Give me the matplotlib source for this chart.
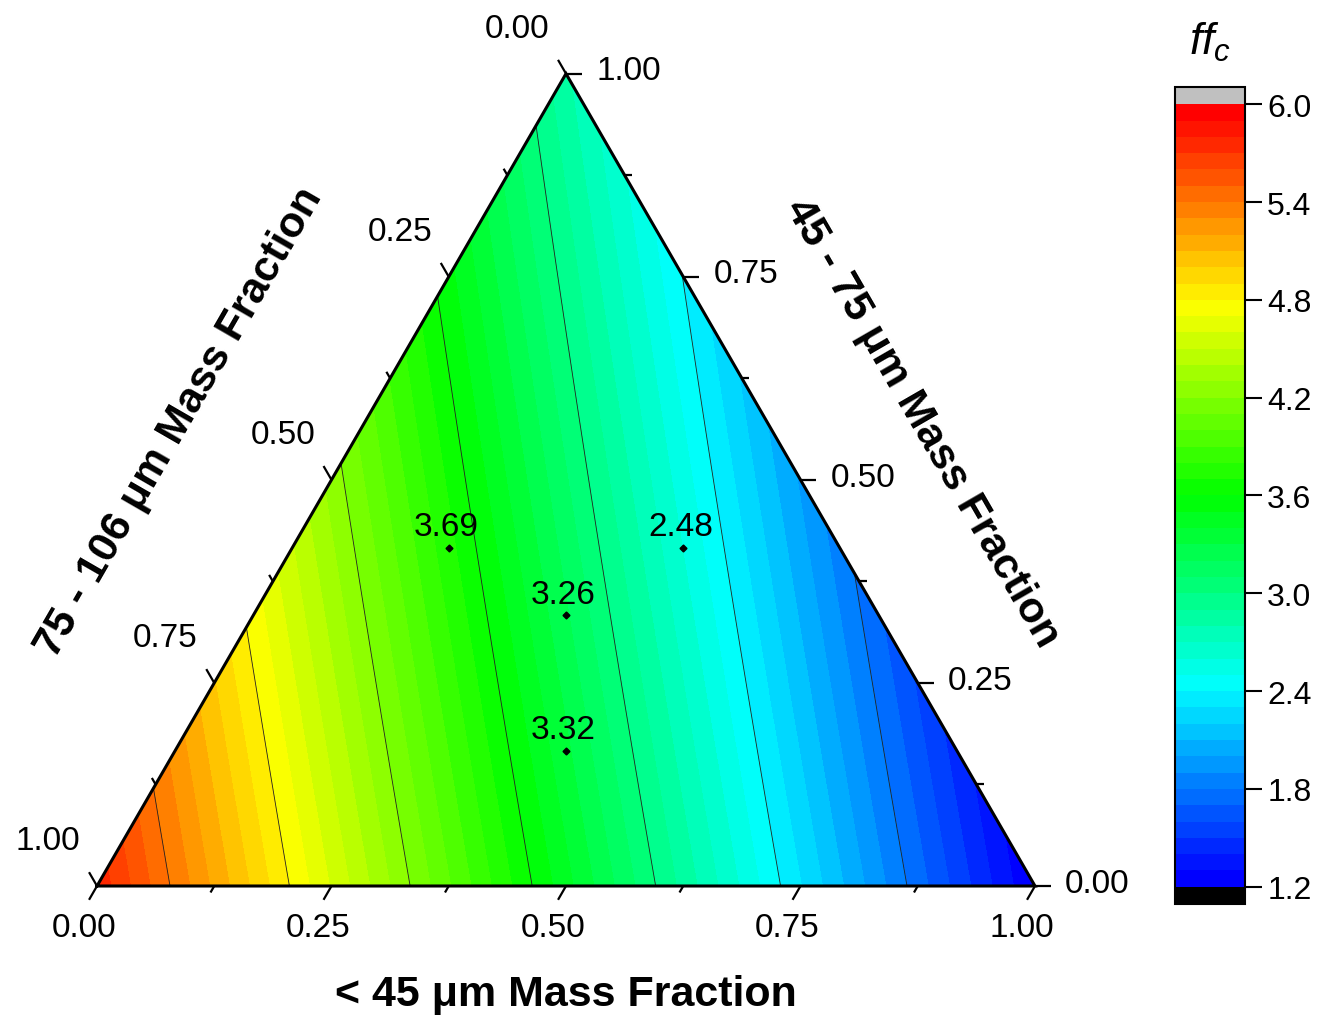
import numpy as np
import matplotlib
matplotlib.use("Agg")
import matplotlib.pyplot as plt
import matplotlib.tri as mtri
from matplotlib.colors import LinearSegmentedColormap, ListedColormap

plt.rcParams['font.family'] = ['Liberation Sans', 'DejaVu Sans']
plt.rcParams['mathtext.fontset'] = 'custom'
plt.rcParams['mathtext.rm'] = 'Liberation Sans'
plt.rcParams['mathtext.it'] = 'Liberation Sans:italic'

# fitted mixture model (Scheffe quadratic)
# pure components: <45, 45-75, 75-106 um
beta_pure = [1.2, 2.82, 5.77]
# binary terms: (<45, 45-75), (<45, 75-106), (45-75, 75-106)
beta_bin = [-0.1, -0.2, -0.14]

# measured blends: (<45, 45-75, 75-106) fractions and ffc
pt_a = [1/6, 5/12, 1/3, 5/12]
pt_b = [5/12, 5/12, 1/3, 1/6]
pt_lab = ["3.69", "2.48", "3.26", "3.32"]

levels = np.round(np.arange(1.2, 6.0001, 0.1), 2)
line_levels = [1.8, 2.4, 3.0, 3.6, 4.2, 4.8, 5.4]
cbar_ticks = [1.2, 1.8, 2.4, 3.0, 3.6, 4.2, 4.8, 5.4, 6.0]
tick_vals = [0.0, 0.25, 0.5, 0.75, 1.0]
minor_vals = [0.125, 0.375, 0.625, 0.875]

H = np.sqrt(3) / 2


def xy(a, b):
    a = np.asarray(a, float)
    b = np.asarray(b, float)
    return a + b / 2, b * H


# triangular lattice over the simplex
n = 80
A, B = [], []
for i in range(n + 1):
    for j in range(n + 1 - i):
        A.append(i / n)
        B.append(j / n)
A = np.array(A)
B = np.array(B)
C = np.clip(1 - A - B, 0, 1)
Z = (beta_pure[0] * A + beta_pure[1] * B + beta_pure[2] * C
     + beta_bin[0] * A * B + beta_bin[1] * A * C + beta_bin[2] * B * C)
Z = np.maximum(Z, 1.2001)
X, Y = xy(A, B)
tri = mtri.Triangulation(X, Y)

base = LinearSegmentedColormap.from_list(
    "rb", ["#0000ff", "#00ffff", "#00ff00", "#ffff00", "#ff0000"])
cols = [base(i / (len(levels) - 2)) for i in range(len(levels) - 1)]
cmap = ListedColormap(cols)
cmap.set_over("#c0c0c0")
cmap.set_under("#000000")

fig = plt.figure(figsize=(13.19, 10.2), dpi=100)
ax = fig.add_axes([0, 0, 1, 1])
ax.set_xlim(-97 / 938, (1319 - 97) / 938)
ax.set_ylim(-133 / 938, (1020 - 133) / 938)
ax.axis("off")

cf = ax.tricontourf(tri, Z, levels=levels, cmap=cmap, extend="both")
ax.tricontour(tri, Z, levels=line_levels, colors="#222222", linewidths=0.6)

# triangle frame
fx, fy = xy([0, 1, 0, 0], [0, 0, 1, 0])
ax.plot(fx, fy, color="black", lw=2.2, solid_joinstyle="miter", zorder=5)

# ticks and labels
L1, L2 = 0.017, 0.008
dirs = {
    "bottom": (-0.5, -H),
    "right": (1.0, 0.0),
    "left": (-0.5, H),
}


def edge_pt(axis, v):
    if axis == "bottom":
        return xy(v, 0)
    if axis == "right":
        return xy(1 - v, v)
    return xy(0, 1 - v)


for axis in ["bottom", "right", "left"]:
    dx, dy = dirs[axis]
    for v in tick_vals + minor_vals:
        L = L1 if v in tick_vals else L2
        x0, y0 = edge_pt(axis, v)
        ax.plot([x0, x0 + dx * L], [y0, y0 + dy * L], color="black", lw=1.6,
                zorder=5, solid_capstyle="butt")
    for v in tick_vals:
        x0, y0 = edge_pt(axis, v)
        if axis == "bottom":
            ax.text(x0 - 0.014, y0 - 0.044, "%.2f" % v, ha="center", va="center", fontsize=24)
        elif axis == "right":
            ax.text(x0 + 0.032, y0 + 0.003, "%.2f" % v, ha="left", va="center", fontsize=24)
        else:
            ax.text(x0 - 0.052, y0 + 0.048, "%.2f" % v, ha="center", va="center", fontsize=24)

# axis titles
ax.text(0.5, -0.115, u"< 45 \u03bcm Mass Fraction", ha="center", va="center",
        fontsize=31, fontweight="bold")
ax.text(0.088, 0.495, u"75 - 106 \u03bcm Mass Fraction", ha="center", va="center",
        fontsize=31, fontweight="bold", rotation=60, rotation_mode="anchor")
ax.text(0.88, 0.495, u"45 - 75 \u03bcm Mass Fraction", ha="center", va="center",
        fontsize=31, fontweight="bold", rotation=-60, rotation_mode="anchor")

# measured points
px, py = xy(pt_a, pt_b)
ax.plot(px, py, "D", color="black", ms=3.5, zorder=6)
for x0, y0, s in zip(px, py, pt_lab):
    ax.text(x0 - 0.003, y0 + 0.022, s, ha="center", va="center", fontsize=24, zorder=6)

# colorbar
cax = fig.add_axes([1175 / 1319, 115 / 1020, 70 / 1319, 817 / 1020])
cb = fig.colorbar(cf, cax=cax, extend="both", extendrect=True, extendfrac=0.022,
                  ticks=cbar_ticks)
cb.outline.set_linewidth(1.5)
cb.ax.tick_params(labelsize=23, length=12, width=1.5, direction="out", pad=4)
cb.ax.set_yticklabels(["%.1f" % t for t in cbar_ticks])
fig.text(1210 / 1319, 1 - 42 / 1020, r"$ff_c$", ha="center", va="center", fontsize=32)

fig.savefig("out.png", dpi=100)
